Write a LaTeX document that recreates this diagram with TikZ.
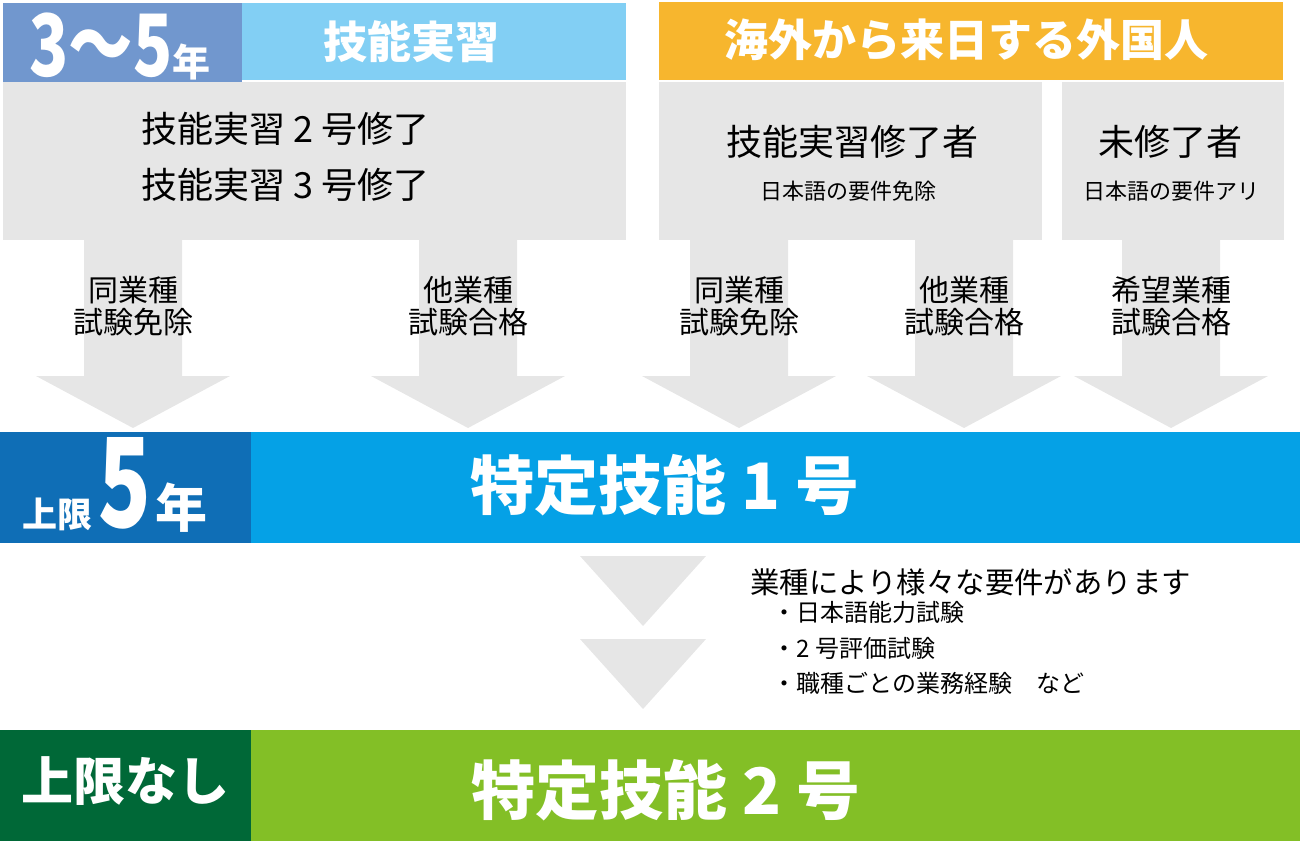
\documentclass[tikz,border=0pt]{standalone}
\usepackage{fontspec}
\setmainfont{Noto Sans CJK JP}
\newfontfamily\narrowfont[FakeStretch=0.75]{Noto Sans CJK JP}
\newfontfamily\limitfont[FakeStretch=0.70]{Noto Sans CJK JP}
\usepackage{tikz}
\usepackage{xcolor}
\definecolor{termblue}{HTML}{7197CE}
\definecolor{skyblue}{HTML}{82CFF4}
\definecolor{headorange}{HTML}{F7B62E}
\definecolor{boxgray}{HTML}{E6E6E6}
\definecolor{limitblue}{HTML}{0F6EB6}
\definecolor{specblue}{HTML}{05A1E6}
\definecolor{limitgreen}{HTML}{006837}
\definecolor{specgreen}{HTML}{83BF26}

\begin{document}
\begin{tikzpicture}[x=0.5pt,y=-0.5pt,every node/.style={inner sep=0pt},
  headtext/.style={text=white,font=\bfseries\fontsize{22}{22}\selectfont},
  grouptext/.style={font=\fontsize{18}{18}\selectfont},
  notetext/.style={font=\fontsize{11}{11}\selectfont},
  pathtext/.style={align=center,font=\fontsize{15}{16}\selectfont},
  spectext/.style={text=white,font=\bfseries\fontsize{32}{32}\selectfont},
  reqtext/.style={anchor=west,font=\fontsize{12}{12}\selectfont}]
\useasboundingbox (0,0) rectangle (1300,843);
% top boxes
\fill[termblue] (3,3) rectangle (242,82);
\fill[skyblue] (242,3) rectangle (626,80);
\fill[boxgray] (3,82) rectangle (626,240);
\fill[headorange] (659,2) rectangle (1283,80);
\fill[boxgray] (659,82) rectangle (1042,240);
\fill[boxgray] (1062,82) rectangle (1284,240);
% block arrows
\foreach \cx in {133,468,739,964,1171}
  \fill[boxgray] (\cx-49,240) -- (\cx+49,240) -- (\cx+49,376) -- (\cx+97,376)
    -- (\cx,428) -- (\cx-97,376) -- (\cx-49,376) -- cycle;
\fill[boxgray] (580,556) -- (706,556) -- (643,626) -- cycle;
\fill[boxgray] (580,639) -- (706,639) -- (643,709) -- cycle;
% bands
\fill[limitblue] (0,432) rectangle (251,543);
\fill[specblue] (251,432) rectangle (1300,543);
\fill[limitgreen] (0,730) rectangle (251,841);
\fill[specgreen] (251,730) rectangle (1300,841);

\node[anchor=base west,text=white] (years) at (29,76)
  {{\narrowfont\bfseries\fontsize{43}{43}\selectfont 3〜5}{\bfseries\fontsize{19}{19}\selectfont 年}};
\node[headtext] (trainee) at (411,42) {技能実習};
\node[headtext] (abroad) at (966,40) {海外から来日する外国人};
\node[grouptext,anchor=west] (done2) at (141,129) {技能実習 2 号修了};
\node[grouptext,anchor=west] (done3) at (141,185) {技能実習 3 号修了};
\node[grouptext] (expert) at (852,142) {技能実習修了者};
\node[notetext] (expertnote) at (848,191) {日本語の要件免除};
\node[grouptext] (novice) at (1170,142) {未修了者};
\node[notetext] (novicenote) at (1171,191) {日本語の要件アリ};

\node[pathtext] (same1) at (133,306) {同業種\\試験免除};
\node[pathtext] (other1) at (468,306) {他業種\\試験合格};
\node[pathtext] (same2) at (739,306) {同業種\\試験免除};
\node[pathtext] (other2) at (964,306) {他業種\\試験合格};
\node[pathtext] (wish) at (1171,306) {希望業種\\試験合格};

\node[anchor=base west,text=white] (limit1) at (22,527)
  {{\bfseries\fontsize{17.5}{18}\selectfont 上限}\hspace{3pt}{\limitfont\bfseries\fontsize{62}{62}\selectfont 5}\hspace{2pt}{\bfseries\fontsize{26}{26}\selectfont 年}};
\node[spectext] (spec1) at (665,485) {特定技能 1 号};

\node[anchor=west,font=\fontsize{14.7}{15}\selectfont] (reqs) at (750,582) {業種により様々な要件があります};
\node[reqtext] (req1) at (772,612) {・日本語能力試験};
\node[reqtext] (req2) at (772,648) {・2 号評価試験};
\node[reqtext] (req3) at (772,683) {・職種ごとの業務経験　など};

\node[text=white,font=\bfseries\fontsize{26}{26}\selectfont] (limit2) at (125,781) {上限なし};
\node[spectext] (spec2) at (666,790) {特定技能 2 号};
\end{tikzpicture}
\end{document}
